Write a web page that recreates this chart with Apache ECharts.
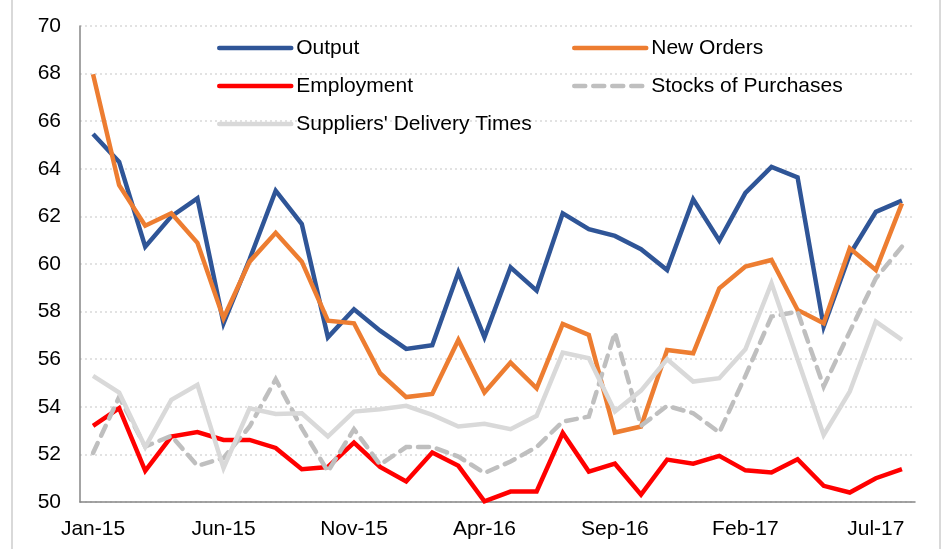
<!DOCTYPE html>
<html>
<head>
<meta charset="utf-8">
<script src="https://cdn.jsdelivr.net/npm/echarts@6/dist/echarts.min.js"></script>
<style>
html,body{margin:0;padding:0;background:#fff;}
#chart{width:945px;height:549px;}
</style>
</head>
<body>
<div id="chart"></div>
<script>
const categories = ['Jan-15','Feb-15','Mar-15','Apr-15','May-15','Jun-15','Jul-15','Aug-15','Sep-15','Oct-15','Nov-15','Dec-15',
  'Jan-16','Feb-16','Mar-16','Apr-16','May-16','Jun-16','Jul-16','Aug-16','Sep-16','Oct-16','Nov-16','Dec-16',
  'Jan-17','Feb-17','Mar-17','Apr-17','May-17','Jun-17','Jul-17','Aug-17'];
const output = [65.46, 64.29, 60.73, 62.0, 62.76, 57.51, 60.2, 63.08, 61.68, 56.92, 58.10, 57.20, 56.43, 56.59, 59.65, 56.92,
  59.86, 58.88, 62.13, 61.46, 61.18, 60.62, 59.75, 62.72, 60.98, 62.99, 64.08, 63.64, 57.37, 60.4, 62.19, 62.66];
const newOrders = [67.97, 63.31, 61.61, 62.13, 60.89, 57.72, 60.1, 61.31, 60.1, 57.62, 57.51, 55.41, 54.41, 54.54, 56.81, 54.6,
  55.86, 54.78, 57.48, 57.02, 52.92, 53.17, 56.39, 56.25, 58.98, 59.89, 60.17, 58.07, 57.51, 60.66, 59.75, 62.55];
const employment = [53.2, 53.94, 51.31, 52.75, 52.94, 52.61, 52.61, 52.27, 51.38, 51.47, 52.5, 51.47, 50.86, 52.08, 51.52, 50.03,
  50.44, 50.44, 52.9, 51.28, 51.61, 50.31, 51.78, 51.61, 51.94, 51.33, 51.24, 51.8, 50.68, 50.4, 51.0, 51.38];
const stocks = [52.06, 54.41, 52.33, 52.78, 51.52, 51.85, 53.17, 55.16, 53.1, 51.28, 53.06, 51.57, 52.31, 52.31, 51.91, 51.22,
  51.7, 52.31, 53.38, 53.59, 57.12, 53.2, 54.04, 53.73, 52.92, 55.3, 57.79, 58.0, 54.85, 57.16, 59.4, 60.73];
const suppliers = [55.3, 54.6, 52.31, 54.29, 54.92, 51.43, 53.94, 53.7, 53.73, 52.75, 53.8, 53.9, 54.04, 53.66, 53.17, 53.29,
  53.06, 53.62, 56.28, 56.04, 53.8, 54.68, 56.0, 55.06, 55.2, 56.42, 59.19, 56.0, 52.82, 54.64, 57.58, 56.81];

const FONT = '"Liberation Sans", Arial, sans-serif';
const chart = echarts.init(document.getElementById('chart'), null, {renderer: 'canvas'});

function line(name, data, color, dash) {
  return {
    name: name, type: 'line', data: data, symbol: 'none', smooth: false,
    lineStyle: {color: color, width: 4.5, type: dash ? [11, 8] : 'solid', cap: dash ? 'round' : 'butt', join: 'miter'},
    itemStyle: {color: color},
    emphasis: {disabled: true},
    animation: false
  };
}

const legendCommon = {
  orient: 'vertical', itemWidth: 72, itemHeight: 14, itemGap: 14, itemTextGap: 7, padding: 0,
  textStyle: {fontSize: 21, fontFamily: FONT, color: '#000', lineHeight: 24},
  itemStyle: {opacity: 0},
  lineStyle: {width: 4.5, cap: 'round'},
  selectedMode: false
};

chart.setOption({
  backgroundColor: '#fff',
  animation: false,
  grid: {left: 80, right: 30, top: 26, bottom: 47},
  legend: [
    Object.assign({left: 217, top: 36, data: ['Output', 'Employment', "Suppliers' Delivery Times"]}, legendCommon),
    Object.assign({left: 572, top: 36, data: ['New Orders', 'Stocks of Purchases']}, legendCommon)
  ],
  xAxis: {
    type: 'category', data: categories, boundaryGap: true,
    axisLine: {show: true, lineStyle: {color: '#868686', width: 1.5}},
    axisTick: {show: false},
    axisLabel: {interval: 4, fontSize: 21, fontFamily: FONT, color: '#000', margin: 17},
    splitLine: {show: false}
  },
  yAxis: {
    type: 'value', min: 50, max: 70, interval: 2,
    axisLine: {show: true, lineStyle: {color: '#868686', width: 1.5}},
    axisTick: {show: false},
    axisLabel: {fontSize: 21, fontFamily: FONT, color: '#000', margin: 19},
    splitLine: {show: true, lineStyle: {color: '#D9D9D9', width: 1.5, type: [2, 3]}}
  },
  graphic: [
    {type: 'line', shape: {x1: 12, y1: 0, x2: 12, y2: 549}, style: {stroke: '#D9D9D9', lineWidth: 2}, silent: true},
    {type: 'line', shape: {x1: 940, y1: 0, x2: 940, y2: 549}, style: {stroke: '#D9D9D9', lineWidth: 2}, silent: true}
  ],
  series: [
    line('Output', output, '#2F5597', false),
    line('New Orders', newOrders, '#ED7D31', false),
    line('Employment', employment, '#FF0000', false),
    line('Stocks of Purchases', stocks, '#BFBFBF', true),
    line("Suppliers' Delivery Times", suppliers, '#D9D9D9', false)
  ]
});
</script>
</body>
</html>
